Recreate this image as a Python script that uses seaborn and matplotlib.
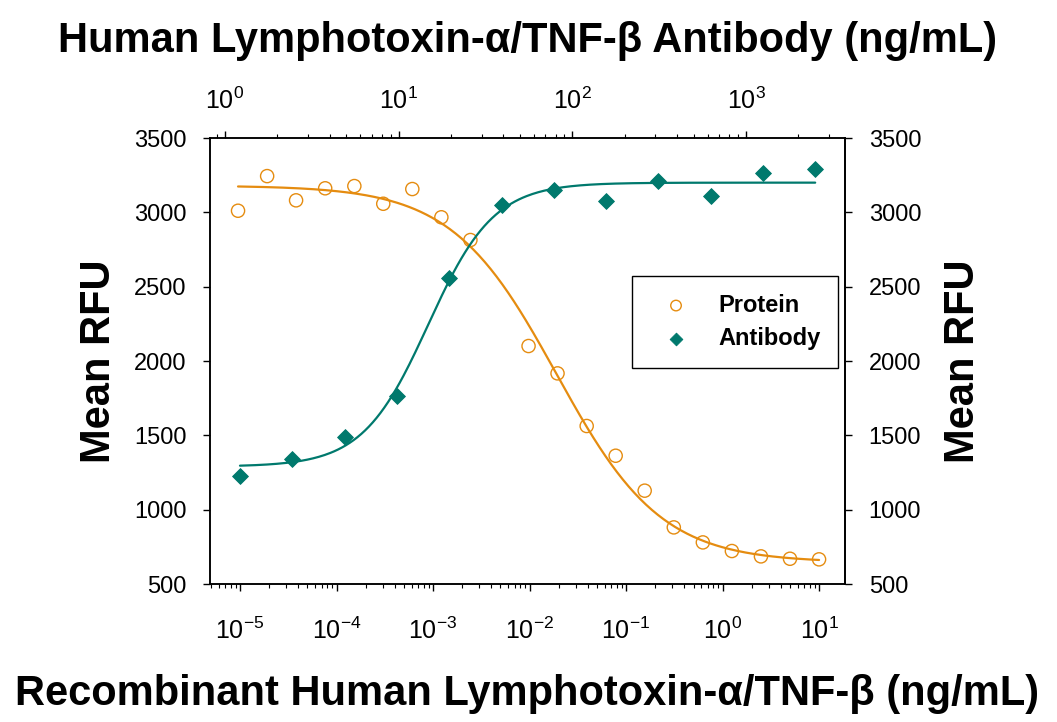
import numpy as np
import pandas as pd
import seaborn as sns
import matplotlib
matplotlib.use("Agg")
import matplotlib.pyplot as plt
from matplotlib.ticker import LogLocator, NullFormatter, MultipleLocator

# Protein (bottom axis, ng/mL) and mean RFU
protein_conc = [9.54e-6, 1.91e-5, 3.81e-5, 7.63e-5, 1.53e-4, 3.05e-4, 6.10e-4,
                1.22e-3, 2.44e-3, 9.77e-3, 0.0195, 0.0391, 0.0781, 0.156,
                0.3125, 0.625, 1.25, 2.5, 5.0, 10.0]
protein_rfu = [3011, 3244, 3081, 3162, 3177, 3058, 3157, 2967, 2814, 2101,
               1917, 1563, 1363, 1128, 881, 780, 722, 686, 670, 666]

# Antibody (top axis, ng/mL)
antibody_conc = [1.22, 2.44, 4.88, 9.77, 19.5, 39.1, 78.1, 156, 313, 625, 1250, 2500]
antibody_rfu = [1227, 1343, 1487, 1765, 2560, 3051, 3148, 3078, 3209, 3108, 3267, 3289]

# 4-parameter logistic fits (bottom, top, log10 EC50, hill) estimated from the curves
protein_fit = (645, 3180, -1.72, 0.8)
antibody_fit = (1290, 3200, 1.17, 2.3)

orange = "#E58C10"
teal = "#00796D"
fonts = ["Liberation Sans", "DejaVu Sans"]

sns.set_style("ticks")
plt.rcParams["font.family"] = fonts
plt.rcParams["mathtext.fontset"] = "custom"
plt.rcParams["mathtext.rm"] = "Liberation Sans"
for k in ("text.color", "axes.labelcolor", "xtick.color", "ytick.color"):
    plt.rcParams[k] = "black"


def four_pl(x, bottom, top, logec50, hill, rising):
    lx = np.log10(x)
    if rising:
        return bottom + (top - bottom) / (1 + 10 ** (hill * (logec50 - lx)))
    return bottom + (top - bottom) / (1 + 10 ** (hill * (lx - logec50)))


prot_df = pd.DataFrame({"conc": protein_conc, "rfu": protein_rfu})
ab_df = pd.DataFrame({"conc": antibody_conc, "rfu": antibody_rfu})

xs_p = np.logspace(np.log10(protein_conc[0]), np.log10(protein_conc[-1]), 300)
xs_a = np.logspace(np.log10(antibody_conc[0]), np.log10(antibody_conc[-1]), 300)
prot_curve = pd.DataFrame({"conc": xs_p, "rfu": four_pl(xs_p, *protein_fit, rising=False)})
ab_curve = pd.DataFrame({"conc": xs_a, "rfu": four_pl(xs_a, *antibody_fit, rising=True)})

fig = plt.figure(figsize=(10.57, 7.22), dpi=100)
ax = fig.add_axes([0.1987, 0.1911, 0.6008, 0.6177])
ax.set_xscale("log")

sns.lineplot(data=prot_curve, x="conc", y="rfu", ax=ax, color=orange, lw=1.6)
sns.scatterplot(data=prot_df, x="conc", y="rfu", ax=ax, marker="o", s=90,
                facecolor="none", edgecolor=orange, linewidth=1.0, label="Protein", zorder=3)

ax2 = ax.twiny()
ax2.set_xscale("log")
sns.lineplot(data=ab_curve, x="conc", y="rfu", ax=ax2, color=teal, lw=1.6)
sns.scatterplot(data=ab_df, x="conc", y="rfu", ax=ax2, marker="D", s=65,
                color=teal, edgecolor=teal, label="Antibody", zorder=3)

ax.set_xlim(4.89e-6, 18.6)
ax2.set_xlim(0.82, 3715)
ax.set_ylim(500, 3500)
ax.yaxis.set_major_locator(MultipleLocator(500))

for a in (ax, ax2):
    for s in a.spines.values():
        s.set_visible(True)
        s.set_color("black")
        s.set_linewidth(1.1)
    a.xaxis.set_major_locator(LogLocator(base=10, numticks=20))
    a.xaxis.set_minor_locator(LogLocator(base=10, subs=np.arange(2, 10), numticks=20))
    a.xaxis.set_minor_formatter(NullFormatter())

ax.tick_params(axis="x", which="major", direction="out", length=5, width=1,
               labelsize=18, pad=19)
ax.tick_params(axis="x", which="minor", direction="out", length=3, width=0.8)
ax2.tick_params(axis="x", which="major", direction="out", length=5, width=1,
                labelsize=18, pad=12)
ax2.tick_params(axis="x", which="minor", direction="out", length=3, width=0.8)
ax.tick_params(axis="y", which="both", direction="out", length=5, width=1,
               labelsize=17, pad=12, left=True, right=False, labelleft=True,
               labelright=False)

# right-hand axis repeats the RFU scale
sec = ax.secondary_yaxis("right")
sec.yaxis.set_major_locator(MultipleLocator(500))
sec.tick_params(axis="y", direction="out", length=5, width=1, labelsize=17, pad=12)
sec.spines["right"].set_linewidth(1.1)

# axis titles
ax.set_xlabel("Recombinant Human Lymphotoxin-α/TNF-β (ng/mL)", fontsize=30,
              fontweight="bold", labelpad=22)
ax2.set_xlabel("Human Lymphotoxin-α/TNF-β Antibody (ng/mL)", fontsize=30,
               fontweight="bold", labelpad=26)
ax.set_ylabel("Mean RFU", fontsize=30, fontweight="bold", labelpad=11)
sec.set_ylabel("Mean RFU", fontsize=30, fontweight="bold", labelpad=16)

# legend combining both axes
h1, l1 = ax.get_legend_handles_labels()
h2, l2 = ax2.get_legend_handles_labels()
if ax.get_legend():
    ax.get_legend().remove()
leg = ax2.legend(h1 + h2, l1 + l2, loc="upper left", bbox_to_anchor=(0.665, 0.6906),
                 borderaxespad=0, frameon=True, fancybox=False, framealpha=1,
                 edgecolor="black", borderpad=0.75, handlelength=2.2, handletextpad=0.7,
                 labelspacing=0.45, markerscale=0.8,
                 prop={"weight": "bold", "size": 17})
leg.get_frame().set_linewidth(1.0)

fig.savefig("out.png", dpi=100)
